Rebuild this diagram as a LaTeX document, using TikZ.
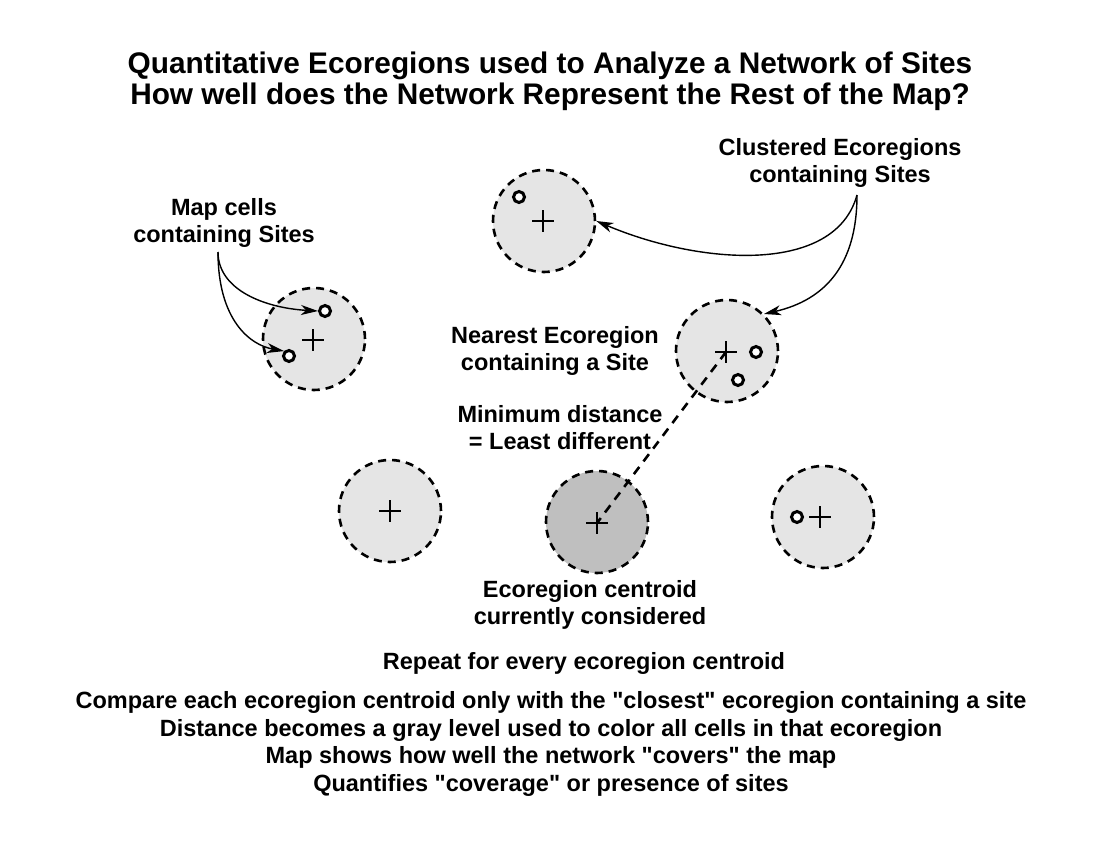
\documentclass[tikz,border=0pt]{standalone}
\usepackage{fontspec}
\setmainfont{Liberation Sans}[Ligatures=TeXOff]
\usetikzlibrary{arrows.meta}
\definecolor{lightreg}{gray}{0.90}
\definecolor{darkreg}{gray}{0.75}
\begin{document}
\begin{tikzpicture}[x=1pt,y=-1pt,
  lbl/.style={font=\fontsize{23.5}{27}\selectfont\bfseries, align=center, inner sep=0pt},
  ttl/.style={font=\fontsize{29.8}{31}\selectfont\bfseries, align=center, inner sep=0pt},
  region/.style={circle, draw, line width=2.6pt, dash pattern=on 8pt off 6pt, fill=lightreg, minimum size=102pt, inner sep=0pt},
  site/.style={circle, draw, line width=3pt, fill=white, minimum size=11pt, inner sep=0pt},
  cross/.pic={\draw[line width=1.4pt] (-11,0)--(11,0) (0,-11)--(0,11);},
  arr/.style={line width=1.4pt, -{Stealth[length=17pt,width=10pt,inset=5pt]}},
  dist/.style={line width=2.6pt, dash pattern=on 9pt off 7pt}
]
\useasboundingbox[fill=white] (0,0) rectangle (1101,851);

% title
\node[ttl] (title) at (550,81) {Quantitative Ecoregions used to Analyze a Network of Sites\\How well does the Network Represent the Rest of the Map?};

% regions
\node[region] (r1) at (544,221) {};
\node[region] (r2) at (314,339) {};
\node[region] (r3) at (727,351) {};
\node[region] (r4) at (390,511) {};
\node[region, fill=darkreg] (r5) at (597,522) {};
\node[region] (r6) at (823,517) {};

% centroids
\coordinate (c1) at (543,221);
\coordinate (c2) at (313,340);
\coordinate (c3) at (726,352);
\coordinate (c4) at (390,511);
\coordinate (c5) at (597,523);
\coordinate (c6) at (820,517);
\foreach \c in {c1,c2,c3,c4,c5,c6} \pic at (\c) {cross};

% sites
\node[site] (s1) at (519,197) {};
\node[site] (s2a) at (325,311) {};
\node[site] (s2b) at (289,356) {};
\node[site] (s3a) at (756,352) {};
\node[site] (s3b) at (738,380) {};
\node[site] (s6) at (797,517) {};

% labels
\node[lbl] (maplbl) at (224,223) {Map cells\\containing Sites};
\node[lbl] (clulbl) at (840,163) {Clustered Ecoregions\\containing Sites};
\node[lbl] (nearlbl) at (555,351) {Nearest Ecoregion\\containing a Site};
\node[lbl] (minlbl) at (560,428) {Minimum distance\\= Least different};
\node[lbl] (curlbl) at (590,605) {Ecoregion centroid\\currently considered};
\node[lbl] (replbl) at (584,663) {Repeat for every ecoregion centroid};
\node[lbl, font=\fontsize{23.5}{27.7}\selectfont\bfseries] (notes) at (551,744) {Compare each ecoregion centroid only with the "closest" ecoregion containing a site\\Distance becomes a gray level used to color all cells in that ecoregion\\Map shows how well the network "covers" the map\\Quantifies "coverage" or presence of sites};

% connectors
\coordinate (mapstart) at (218,252);
\draw[arr] (mapstart) .. controls (218,290) and (265,308) .. (s2a.west);
\draw[arr] (mapstart) .. controls (218,320) and (250,345) .. (s2b.north west);
\coordinate (clustart) at (857,195);
\draw[arr] (clustart) .. controls (835,275) and (700,265) .. (r1.east);
\draw[arr] (clustart) .. controls (857,265) and (825,300) .. (r3.north east);

\draw[dist] (c3) -- (c5);
\end{tikzpicture}
\end{document}
